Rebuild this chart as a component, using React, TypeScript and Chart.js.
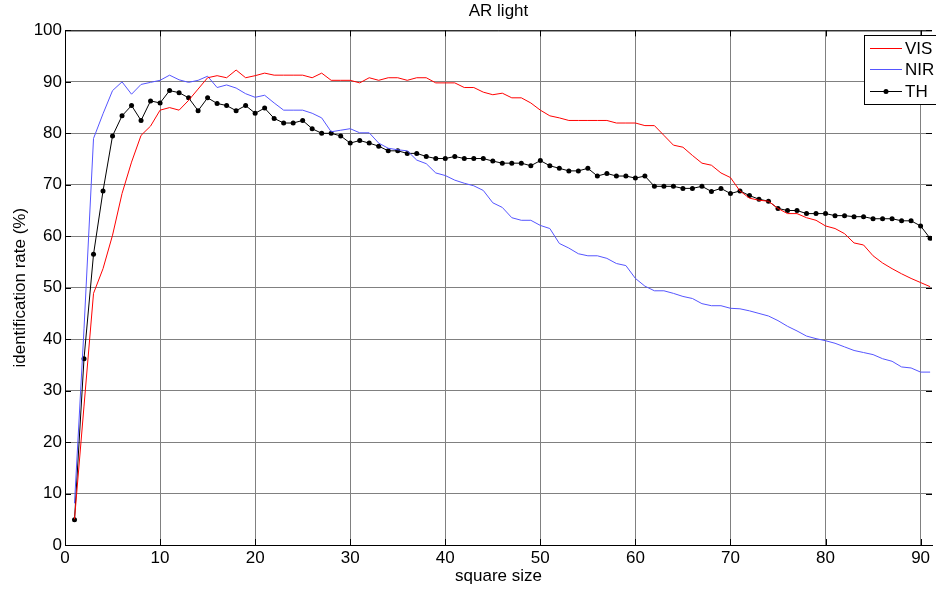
import React, { useEffect, useRef } from "react";
import { Chart, registerables } from "chart.js";

Chart.register(...registerables);

const chartTitle = "AR light";
const xAxisTitle = "square size";
const yAxisTitle = "identification rate (%)";
const seriesLabels = ["VIS", "NIR", "TH"];

const squareSizes = [
  1, 2, 3, 4, 5, 6, 7, 8, 9, 10, 11, 12, 13, 14, 15, 16, 17, 18, 19, 20,
  21, 22, 23, 24, 25, 26, 27, 28, 29, 30, 31, 32, 33, 34, 35, 36, 37, 38, 39, 40,
  41, 42, 43, 44, 45, 46, 47, 48, 49, 50, 51, 52, 53, 54, 55, 56, 57, 58, 59, 60,
  61, 62, 63, 64, 65, 66, 67, 68, 69, 70, 71, 72, 73, 74, 75, 76, 77, 78, 79, 80,
  81, 82, 83, 84, 85, 86, 87, 88, 89, 90, 91,
];

const visValues = [
  5.0, 27, 48.9, 53.7, 60.2, 68.3, 74.4, 79.6, 81.4, 84.5,
  85.0, 84.5, 86.4, 88.6, 90.8, 91.2, 90.8, 92.3, 90.8, 91.2,
  91.7, 91.3, 91.3, 91.3, 91.3, 90.8, 91.7, 90.3, 90.3, 90.3,
  89.8, 90.8, 90.3, 90.8, 90.8, 90.3, 90.8, 90.8, 89.8, 89.8,
  89.8, 88.9, 88.9, 88.0, 87.5, 87.8, 86.9, 86.9, 85.9, 84.5,
  83.4, 83.0, 82.5, 82.5, 82.5, 82.5, 82.5, 82.0, 82.0, 82.0,
  81.5, 81.5, 79.6, 77.7, 77.3, 75.7, 74.2, 73.8, 72.3, 71.4,
  68.8, 67.4, 67.0, 66.8, 65.4, 64.4, 64.4, 63.6, 63.1, 62.0,
  61.5, 60.5, 58.7, 58.3, 56.2, 54.8, 53.7, 52.7, 51.8, 51.0,
  50.2,
];

const nirValues = [
  8.1, 42, 79.0, 83.8, 88.3, 90.0, 87.6, 89.5, 89.9, 90.3,
  91.3, 90.4, 89.9, 90.3, 91.1, 88.9, 89.4, 88.8, 87.7, 87.0,
  87.4, 85.9, 84.5, 84.5, 84.5, 83.9, 83.0, 80.3, 80.6, 80.9,
  80.1, 80.1, 78.1, 77.1, 76.8, 76.6, 74.8, 74.1, 72.3, 71.8,
  70.9, 70.3, 69.8, 68.9, 66.5, 65.6, 63.6, 63.1, 63.1, 62.1,
  61.5, 58.6, 57.7, 56.6, 56.2, 56.2, 55.7, 54.7, 54.3, 51.8,
  50.3, 49.4, 49.4, 48.9, 48.3, 47.9, 46.9, 46.5, 46.5, 46.0,
  45.9, 45.5, 45.0, 44.5, 43.6, 42.5, 41.6, 40.6, 40.1, 39.7,
  39.2, 38.5, 37.8, 37.4, 37.0, 36.2, 35.7, 34.6, 34.4, 33.6,
  33.6,
];

const thValues = [
  4.9, 36.2, 56.5, 68.8, 79.5, 83.4, 85.4, 82.5, 86.3, 85.9,
  88.3, 87.9, 86.9, 84.4, 86.9, 85.8, 85.4, 84.4, 85.4, 83.9,
  84.9, 82.9, 82.0, 82.0, 82.5, 80.9, 80.0, 80.0, 79.5, 78.1,
  78.6, 78.1, 77.5, 76.6, 76.6, 76.1, 76.1, 75.5, 75.1, 75.1,
  75.5, 75.1, 75.1, 75.1, 74.6, 74.2, 74.2, 74.2, 73.7, 74.7,
  73.7, 73.2, 72.7, 72.7, 73.2, 71.7, 72.2, 71.7, 71.7, 71.3,
  71.7, 69.7, 69.7, 69.7, 69.3, 69.3, 69.7, 68.7, 69.3, 68.3,
  68.8, 67.9, 67.2, 66.8, 65.4, 65.0, 65.0, 64.4, 64.4, 64.4,
  64.0, 64.0, 63.8, 63.8, 63.4, 63.4, 63.4, 63.0, 63.0, 62.0,
  59.6,
];

const xTicks = [0, 10, 20, 30, 40, 50, 60, 70, 80, 90];
const yTicks = [0, 10, 20, 30, 40, 50, 60, 70, 80, 90, 100];

const FONT = "'Liberation Sans', Arial, sans-serif";
const colors = ["#ff0000", "#5555ff", "#000000"];
const GRID = "#808080";

const boxPlugin = {
  id: "matlabBox",
  afterDraw(chart: any) {
    const { ctx, chartArea } = chart;
    const { left, right, top, bottom } = chartArea;
    const xs = chart.scales.x;
    const ys = chart.scales.y;
    ctx.save();
    ctx.strokeStyle = "#000";
    ctx.lineWidth = 1;
    ctx.beginPath();
    ctx.moveTo(left, top + 0.5);
    ctx.lineTo(right, top + 0.5);
    ctx.stroke();
    // inward ticks
    ctx.beginPath();
    xTicks.forEach((v) => {
      const px = Math.round(xs.getPixelForValue(v)) + 0.5;
      ctx.moveTo(px, bottom);
      ctx.lineTo(px, bottom - 6);
      ctx.moveTo(px, top);
      ctx.lineTo(px, top + 6);
    });
    yTicks.forEach((v) => {
      const py = Math.round(ys.getPixelForValue(v)) + 0.5;
      ctx.moveTo(left, py);
      ctx.lineTo(left + 6, py);
      ctx.moveTo(right, py);
      ctx.lineTo(right - 6, py);
    });
    ctx.stroke();

    // legend
    const bx = 864.5, by = 35.5, bw = 80, bh = 69;
    ctx.fillStyle = "#fff";
    ctx.fillRect(bx, by, bw, bh);
    ctx.strokeStyle = "#000";
    ctx.strokeRect(bx, by, bw, bh);
    const rows = [48.5, 69.5, 91.5];
    ctx.font = `17px ${FONT}`;
    ctx.textBaseline = "middle";
    ctx.textAlign = "left";
    seriesLabels.forEach((lab, i) => {
      ctx.strokeStyle = colors[i];
      ctx.beginPath();
      ctx.moveTo(870, rows[i]);
      ctx.lineTo(902, rows[i]);
      ctx.stroke();
      if (i === 2) {
        ctx.fillStyle = "#000";
        ctx.beginPath();
        ctx.arc(886, rows[i], 2.5, 0, Math.PI * 2);
        ctx.fill();
      }
      ctx.fillStyle = "#000";
      ctx.fillText(lab, 905, rows[i] + 1);
    });
    ctx.restore();
  },
};

export default function App() {
  const ref = useRef<HTMLCanvasElement | null>(null);
  useEffect(() => {
    document.body.style.margin = "0";
    if (!ref.current) return;
    const series = [visValues, nirValues, thValues];
    const chart = new Chart(ref.current, {
      type: "line",
      data: {
        datasets: series.map((vals, i) => ({
          label: seriesLabels[i],
          data: squareSizes.map((x, k) => ({ x, y: vals[k] })),
          borderColor: colors[i],
          backgroundColor: colors[i],
          borderWidth: 1,
          pointRadius: i === 2 ? 2.5 : 0,
          pointBorderWidth: 0,
          pointBackgroundColor: colors[i],
          tension: 0,
        })),
      },
      options: {
        responsive: false,
        animation: false,
        events: [],
        layout: { padding: { top: 0, right: 0, left: 0, bottom: 0 } },
        plugins: {
          legend: { display: false },
          tooltip: { enabled: false },
          title: {
            display: true,
            text: chartTitle,
            fullSize: false,
            color: "#000",
            font: { family: FONT, size: 17, weight: "normal" },
            padding: { top: 1, bottom: 9 },
          },
        },
        scales: {
          x: {
            type: "linear",
            min: 0,
            max: 91.2,
            afterFit(scale: any) {
              scale.height = 44;
            },
            ticks: {
              stepSize: 10,
              includeBounds: false,
              color: "#000",
              padding: 3,
              maxRotation: 0,
              font: { family: FONT, size: 17 },
            },
            grid: {
              color: GRID,
              drawTicks: false,
              lineWidth: 1,
            },
            border: { display: true, color: "#000", width: 1 },
            title: {
              display: true,
              text: xAxisTitle,
              color: "#000",
              font: { family: FONT, size: 17 },
              padding: { top: 0, bottom: 2 },
            },
          },
          y: {
            type: "linear",
            min: 0,
            max: 100,
            afterFit(scale: any) {
              scale.width = 65;
            },
            ticks: {
              stepSize: 10,
              color: "#000",
              padding: 3,
              font: { family: FONT, size: 17 },
            },
            grid: {
              color: GRID,
              drawTicks: false,
              lineWidth: 1,
            },
            border: { display: true, color: "#000", width: 1 },
            title: {
              display: true,
              text: yAxisTitle,
              color: "#000",
              font: { family: FONT, size: 17 },
              padding: { top: 10, bottom: 0 },
            },
          },
        },
      },
      plugins: [boxPlugin],
    });
    return () => chart.destroy();
  }, []);
  return (
    <div style={{ width: 936, height: 589 }}>
      <canvas ref={ref} width={936} height={589} style={{ display: "block" }} />
    </div>
  );
}
